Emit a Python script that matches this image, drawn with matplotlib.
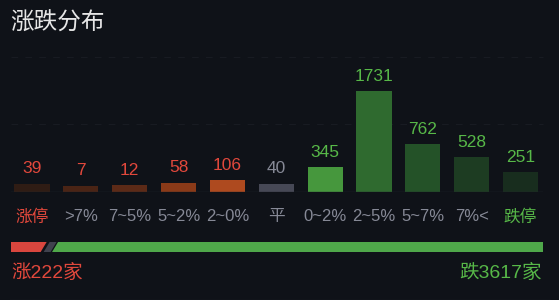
import matplotlib
matplotlib.use("Agg")
import matplotlib.pyplot as plt
from matplotlib.patches import Polygon
from matplotlib.lines import Line2D

plt.rcParams['font.family'] = ['Liberation Sans', 'Noto Sans CJK SC', 'DejaVu Sans']

# ---- data ----
categories = ['涨停', '>7%', '7~5%', '5~2%', '2~0%', '平', '0~2%', '2~5%', '5~7%', '7%<', '跌停']
values = [39, 7, 12, 58, 106, 40, 345, 1731, 762, 528, 251]
up_count = 222
flat_count = 40
down_count = 3617
title = '涨跌分布'
up_label = '涨222家'
down_label = '跌3617家'

# ---- style ----
BG = '#0f1218'
RED = '#e2483c'
GREEN = '#57b848'
GREY_TXT = '#868996'
bar_colors = ['#2f1c14', '#4a2415', '#5c2a17', '#8a3a18', '#ae4a1f', '#464855',
              '#46973d', '#2f6a2f', '#245228', '#1d3c22', '#182d1e']
val_colors = [RED] * 5 + [GREY_TXT] + [GREEN] * 5
cat_colors = [RED] + [GREY_TXT] * 9 + [GREEN]
MIN_OFFSET = 109  # visual minimum bar height (data units)

W, H = 559, 300
fig = plt.figure(figsize=(W / 100, H / 100), dpi=100)
fig.patch.set_facecolor(BG)

ax = fig.add_axes([11 / W, (H - 192) / H, (543 - 11) / W, 135 / H])
ax.set_facecolor(BG)
x = list(range(len(values)))
heights = [v + MIN_OFFSET for v in values]
bars = ax.bar(x, heights, width=0.72, color=bar_colors, zorder=3)
ax.set_xlim(-0.43, len(values) - 1 + 0.46)
ax.set_ylim(0, 2460)
for s in ax.spines.values():
    s.set_visible(False)
ax.set_yticks([])
for yv in [1230, 2460]:
    ax.axhline(yv, color='#181b22', lw=0.8, ls=(0, (6, 6.5)), zorder=1, clip_on=False)
ax.axhline(0, color='#23272f', lw=1.0, zorder=4)

for xi, h, v, c in zip(x, heights, values, val_colors):
    ax.annotate(str(v), (xi, h), xytext=(0, 7.5), textcoords='offset points',
                ha='center', va='baseline', fontsize=12.5, color=c)

ax.set_xticks(x)
ax.set_xticklabels(categories, fontsize=12)
ax.tick_params(axis='x', length=0, pad=12.5)
for lbl, c in zip(ax.get_xticklabels(), cat_colors):
    lbl.set_color(c)

# title
fig.text(10 / W, 1 - 24 / H, title, fontsize=17, color='#e6e6e6', va='center', ha='left')

# progress bar
pax = fig.add_axes([11 / W, (H - 252) / H, (543 - 11) / W, 10 / H])
pax.set_axis_off()
pax.set_xlim(0, 532)
pax.set_ylim(0, 1)
total = up_count + flat_count + down_count
Wbar = 532.0
gap = 3.0
slant = 6.0
red_w = max(up_count / total, 0.067) * Wbar
flat_w = max(flat_count / total, 0.013) * Wbar
x0 = 0
red = Polygon([(x0, 0), (x0, 1), (x0 + red_w, 1), (x0 + red_w - slant, 0)], closed=True,
              color='#d9463e', lw=0)
pax.add_patch(red)
x1 = x0 + red_w + gap
grey = Polygon([(x1 - slant, 0), (x1, 1), (x1 + flat_w, 1), (x1 + flat_w - slant, 0)], closed=True,
               color='#40424e', lw=0)
pax.add_patch(grey)
x2 = x1 + flat_w + 1.5
green = Polygon([(x2 - slant, 0), (x2, 1), (Wbar, 1), (Wbar, 0)], closed=True,
                color='#4fa84a', lw=0)
pax.add_patch(green)

fig.text(11 / W, 1 - 273 / H, up_label, fontsize=14, color=RED, va='center', ha='left')
fig.text(542 / W, 1 - 273 / H, down_label, fontsize=14, color=GREEN, va='center', ha='right')

fig.add_artist(Line2D([10 / W, 550 / W], [0.5 / H, 0.5 / H], color='#1a1d24', lw=1))

fig.savefig('out.png', dpi=100, facecolor=BG)
